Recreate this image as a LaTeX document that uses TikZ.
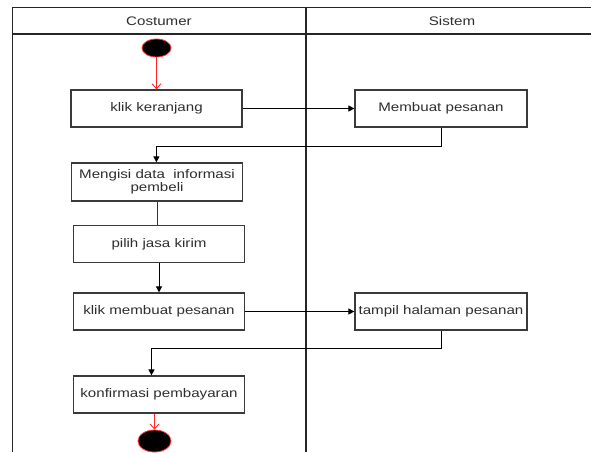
\documentclass[tikz,border=0pt]{standalone}
\usepackage{fontspec}
\setmainfont{Liberation Sans}
\usepackage{graphicx}
\usetikzlibrary{arrows.meta}
\newcommand\sxt[1]{\scalebox{1.22}[1]{#1}}
\definecolor{txtc}{HTML}{2E2E2E}
\definecolor{boxc}{HTML}{3A3A3A}
\tikzset{
  actbox/.style={draw=boxc, line width=1.2pt, rectangle, minimum width=171pt, minimum height=37pt, inner sep=0pt, text=txtc, font=\fontsize{12.4}{14}\selectfont, align=center},
  lane/.style={draw=black!85, line width=1.1pt},
  arr/.style={draw=black, line width=0.9pt, -{Triangle[length=6pt,width=6pt]}},
  plain/.style={draw=black!80, line width=0.9pt},
  redarr/.style={draw=red!85, line width=0.9pt, -{Straight Barb[length=5pt,width=9pt]}},
  startnode/.style={ellipse, fill=black, draw=red!80, line width=0.8pt, inner sep=0pt},
  hdr/.style={text=txtc, font=\fontsize{12.4}{14}\selectfont, inner sep=0pt}
}
\usetikzlibrary{shapes.geometric}
\begin{document}
\begin{tikzpicture}[x=1pt,y=-1pt]
\useasboundingbox (0,0) rectangle (591,452);
% swimlanes
\draw[lane] (12.5,452) -- (12.5,7.5) -- (591,7.5);
\draw[lane] (12.5,34) -- (591,34);
\draw[lane] (306,7.5) -- (306,452);
\node[hdr] (hc) at (159,21) {\sxt{Costumer}};
\node[hdr] (hs) at (452,21) {\sxt{Sistem}};
% start
\node[startnode, minimum width=29pt, minimum height=18pt] (st) at (156.5,48) {};
% boxes
\node[actbox] (kk) at (156.5,108.5) {\sxt{klik keranjang}};
\node[actbox, minimum width=172pt] (mp) at (441,108.5) {\sxt{Membuat pesanan}};
\node[actbox, minimum height=38pt] (mg) at (157,182) {\sxt{\begin{tabular}{@{}c@{}}Mengisi data\ \ informasi\\[-1pt] pembeli\end{tabular}}};
\node[actbox] (pj) at (159,244.3) {\sxt{pilih jasa kirim}};
\node[actbox] (km) at (159,311.5) {\sxt{klik membuat pesanan}};
\node[actbox, minimum width=172pt] (th) at (441,311.5) {\sxt{tampil halaman pesanan}};
\node[actbox] (kp) at (159,394.5) {\sxt{konfirmasi pembayaran}};
% end
\node[startnode, minimum width=33pt, minimum height=22pt] (en) at (154.5,441) {};
% helper coordinates
\coordinate (y1) at (0,146);
\coordinate (x1) at (156.4,0);
\coordinate (y2) at (0,348);
\coordinate (x2) at (151.5,0);
\coordinate (x3) at (154.5,0);
% connectors
\draw[redarr] (st.south) -- (st.south |- kk.north);
\draw[arr] (kk.east) -- (mp.west);
\draw[arr] (mp.south) -- (mp.south |- y1) -| (x1 |- mg.north);
\draw[plain] (mg.south) -- (mg.south |- pj.north);
\draw[arr] (pj.south) -- (km.north);
\draw[arr] (km.east) -- (th.west);
\draw[arr] (th.south) -- (th.south |- y2) -| (x2 |- kp.north);
\draw[redarr] (x3 |- kp.south) -- (en.north);
\end{tikzpicture}
\end{document}
